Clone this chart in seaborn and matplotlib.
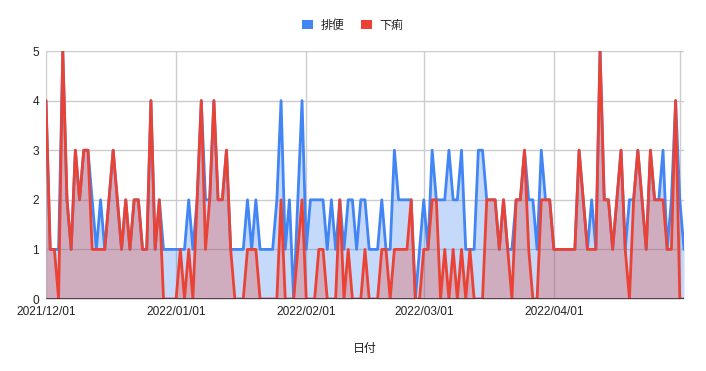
import matplotlib
matplotlib.use("Agg")
import matplotlib.pyplot as plt
import matplotlib.dates as mdates
from matplotlib.patches import Patch
import seaborn as sns
import pandas as pd
import numpy as np

start_date = "2021-12-01"
series_names = ["排便", "下痢"]
colors = ["#4285F4", "#EA4335"]

haiben = [4, 1, 1, 1, 5, 2, 1, 3, 2, 3, 3, 2, 1, 2, 1, 2, 3, 2, 1, 2,
          1, 2, 2, 1, 1, 4, 1, 2, 1, 1, 1, 1, 1, 1, 2, 1, 2, 4, 2, 2,
          4, 2, 2, 3, 1, 1, 1, 1, 2, 1, 2, 1, 1, 1, 1, 2, 4, 1, 2, 0,
          2, 4, 1, 2, 2, 2, 2, 1, 2, 1, 2, 1, 2, 2, 1, 2, 2, 1, 1, 1,
          2, 1, 1, 3, 2, 2, 2, 2, 0, 1, 2, 1, 3, 2, 2, 2, 3, 2, 2, 3,
          1, 1, 1, 3, 3, 2, 2, 2, 1, 2, 1, 1, 2, 2, 3, 2, 2, 1, 3, 2,
          2, 1, 1, 1, 1, 1, 1, 3, 2, 1, 2, 1, 5, 2, 2, 1, 2, 3, 1, 2,
          2, 3, 2, 1, 3, 2, 2, 3, 1, 2, 4, 2, 1]
geri = [4, 1, 1, 0, 5, 2, 1, 3, 2, 3, 3, 1, 1, 1, 1, 2, 3, 2, 1, 2,
        1, 2, 2, 1, 1, 4, 1, 2, 0, 0, 0, 0, 1, 0, 1, 0, 2, 4, 1, 2,
        4, 2, 2, 3, 1, 0, 0, 0, 1, 1, 1, 0, 0, 0, 0, 0, 2, 0, 0, 0,
        1, 2, 0, 0, 0, 1, 1, 0, 0, 0, 2, 0, 1, 0, 0, 0, 1, 0, 0, 0,
        1, 1, 0, 1, 1, 1, 1, 2, 0, 0, 1, 1, 2, 2, 0, 1, 0, 1, 0, 1,
        0, 1, 0, 0, 0, 2, 2, 2, 1, 2, 1, 0, 2, 2, 3, 1, 0, 0, 2, 2,
        2, 1, 1, 1, 1, 1, 1, 3, 2, 1, 1, 1, 5, 2, 2, 1, 2, 3, 1, 0,
        2, 3, 2, 1, 3, 2, 2, 2, 1, 1, 4, 0, 0]
month_ticks = ["2021-12-01", "2022-01-01", "2022-02-01", "2022-03-01", "2022-04-01", "2022-05-01"]
tick_labels = ["2021/12/01", "2022/01/01", "2022/02/01", "2022/03/01", "2022/04/01", ""]
x_label = "日付"

dates = pd.date_range(start_date, periods=len(haiben), freq="D")
df = pd.DataFrame({
    "date": np.concatenate([dates, dates]),
    "value": haiben + geri,
    "series": [series_names[0]] * len(haiben) + [series_names[1]] * len(geri),
})

sns.set_theme(style="white")
plt.rcParams["font.family"] = ["Liberation Sans", "Noto Sans CJK JP"]

fig = plt.figure(figsize=(7.06, 3.71), dpi=100)
ax = fig.add_axes([46 / 706, (371 - 299) / 371, (684 - 46) / 706, (299 - 51) / 371])

# grid
for v in range(0, 6):
    ax.axhline(v, color="#cccccc", lw=1, zorder=0)
for t in month_ticks:
    ax.axvline(pd.Timestamp(t), color="#cccccc", lw=1, zorder=0)

for name, vals, c in zip(series_names, [haiben, geri], colors):
    ax.fill_between(dates, 0, vals, color=c, alpha=0.3, lw=0, zorder=1)

sns.lineplot(data=df, x="date", y="value", hue="series", hue_order=series_names,
             palette=colors, linewidth=2, ax=ax, legend=False, zorder=3)

ax.axhline(0, color="#333333", lw=1.2, zorder=4)

ax.set_xlim(dates[0], dates[-1])
ax.set_ylim(0, 5)
ax.set_yticks(range(0, 6))
ax.set_xticks([pd.Timestamp(t) for t in month_ticks])
ax.set_xticklabels(tick_labels)
ax.tick_params(axis="both", length=0, labelsize=8.6, colors="#222222")
ax.tick_params(axis="x", pad=5)
ax.tick_params(axis="y", pad=5)
ax.set_ylabel("")
ax.set_xlabel(x_label, fontsize=8.6, color="#222222", labelpad=18)
for s in ax.spines.values():
    s.set_visible(False)
ax.grid(False)

handles = [Patch(facecolor=c, edgecolor="none") for c in colors]
fig.legend(handles, series_names, loc="center", bbox_to_anchor=(0.5, 1 - 25.5 / 371),
           ncol=2, frameon=False, fontsize=8.6, handlelength=0.85, handleheight=0.85,
           handletextpad=0.7, columnspacing=1.4, labelcolor="#222222")

fig.savefig("out.png", dpi=100)
